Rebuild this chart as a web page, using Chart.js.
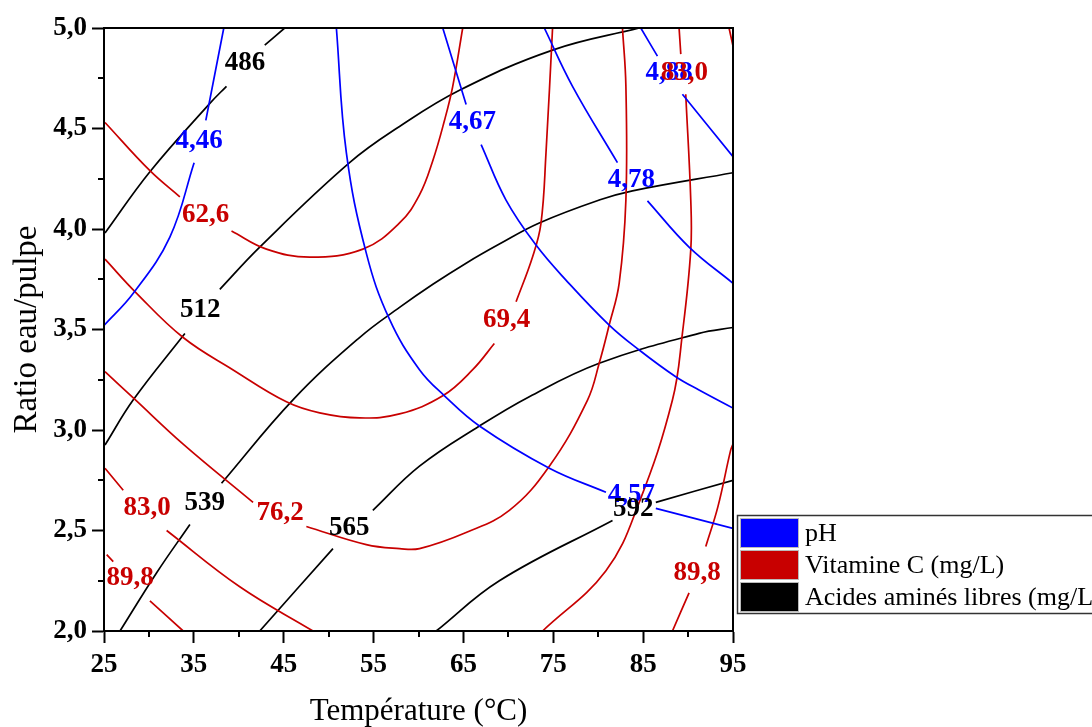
<!DOCTYPE html>
<html>
<head>
<meta charset="utf-8">
<title>Contours</title>
<script src="https://cdn.jsdelivr.net/npm/chart.js@4.4.0/dist/chart.umd.min.js"></script>
<style>
  html, body { margin: 0; padding: 0; background: #fff; }
  canvas { display: block; }
</style>
</head>
<body>
<canvas id="chart" width="1092" height="727"></canvas>
<script>
// Axis ticks
const xTicks = [25, 35, 45, 55, 65, 75, 85, 95];
const xMinorTicks = [30, 40, 50, 60, 70, 80, 90];
const yTicks = [2.0, 2.5, 3.0, 3.5, 4.0, 4.5, 5.0];
const yMinorTicks = [2.25, 2.75, 3.25, 3.75, 4.25, 4.75];

// Contour lines: [temperature, ratio], null = break (label gap)
const ph446 = [[38.33, 5.0], [36.33, 4.54], null, [35.03, 4.33], [32.33, 3.96], [28.26, 3.68], [25.0, 3.52]];
const ph457 = [[50.86, 5.0], [51.97, 4.38], [54.19, 3.88], [56.78, 3.55], [60.11, 3.30], [62.89, 3.17], [66.78, 3.02], [74.56, 2.81], [80.86, 2.69], null, [86.41, 2.61], [95.0, 2.51]];
const ph467 = [[62.70, 5.0], [65.30, 4.62], null, [66.97, 4.42], [69.74, 4.144], [73.08, 3.92], [76.41, 3.746], [81.22, 3.522], [84.56, 3.398], [88.63, 3.265], [91.22, 3.199], [95.0, 3.109]];
const ph478 = [[74.0, 5.0], [77.14, 4.71], [82.14, 4.33], null, [85.48, 4.14], [90.11, 3.91], [95.0, 3.73]];
const ph488 = [[84.74, 5.0], [86.59, 4.86], null, [89.37, 4.67], [95.0, 4.36]];

const vitc626 = [[25.11, 4.53], [30.11, 4.29], [33.44, 4.16], null, [39.19, 3.99], [43.08, 3.90], [47.89, 3.86], [53.81, 3.90], [57.89, 4.03], [60.11, 4.17], [61.59, 4.34], [62.89, 4.54], [63.81, 4.71], [64.92, 5.0]];
const vitc694 = [[25.11, 3.85], [28.63, 3.68], [33.81, 3.46], [39.33, 3.30], [45.30, 3.14], [49.0, 3.085], [53.44, 3.06], [57.89, 3.08], [62.70, 3.17], [66.03, 3.30], [68.44, 3.43], null, [70.86, 3.638], [72.70, 3.862], [73.63, 4.028], [74.19, 4.38], [74.92, 5.0]];
const vitc762 = [[25.11, 3.29], [28.26, 3.16], [33.81, 2.93], [41.59, 2.64], null, [47.52, 2.52], [54.19, 2.43], [57.89, 2.41], [60.11, 2.41], [65.30, 2.49], [70.11, 2.60], [74.56, 2.82], [78.81, 3.149], [80.11, 3.332], [81.22, 3.522], [82.33, 3.73], [83.08, 4.144], [83.08, 4.71], [82.70, 5.0]];
const vitc830 = [[25.11, 2.81], [27.14, 2.70], null, [31.97, 2.50], [40.11, 2.22], [48.26, 2.0], null, [73.81, 2.0], [80.86, 2.30], [84.56, 2.64], [88.26, 3.149], [89.37, 3.481], [90.3, 3.896], [90.3, 4.144], [89.74, 4.67], null, [89.19, 4.87], [89.0, 5.0]];
const vitc898 = [[25.3, 2.38], [26.03, 2.345], null, [30.11, 2.15], [33.81, 2.0], null, [88.26, 2.0], [90.11, 2.19], null, [91.97, 2.42], [93.33, 2.62], [94.74, 2.90], [95.0, 2.93], null, [94.56, 5.0], [95.0, 4.91]];

const aa486 = [[25.11, 3.98], [30.11, 4.285], [36.78, 4.625], [38.63, 4.71], null, [42.89, 4.915], [45.11, 5.0]];
const aa512 = [[25.11, 2.925], [28.26, 3.15], [34.0, 3.48], null, [37.89, 3.70], [42.33, 3.91], [52.33, 4.33], [57.89, 4.51], [64.56, 4.69], [74.92, 4.89], [84.56, 5.0]];
const aa539 = [[26.78, 2.0], [30.86, 2.29], [34.56, 2.53], null, [38.08, 2.735], [46.03, 3.15], [53.44, 3.46], [57.89, 3.61], [61.6, 3.725], [65.30, 3.83], [69.0, 3.925], [73.44, 4.03], [80.11, 4.144], [83.81, 4.19], [95.0, 4.28]];
const aa565 = [[42.33, 2.0], [50.48, 2.41], null, [54.92, 2.60], [60.11, 2.82], [66.78, 3.02], [72.33, 3.166], [80.11, 3.332], [91.22, 3.481], [95.0, 3.51]];
const aa592 = [[61.97, 2.0], [69.0, 2.25], [81.59, 2.55], null, [86.41, 2.64], [95.0, 2.75]];

const phLines = [ph446, ph457, ph467, ph478, ph488];
const vitcLines = [vitc626, vitc694, vitc762, vitc830, vitc898];
const aaLines = [aa486, aa512, aa539, aa565, aa592];

// Contour labels: [text, temperature, ratio]
const phLabels = [['4,46', 35.6, 4.44], ['4,57', 83.7, 2.677], ['4,67', 66.0, 4.532], ['4,78', 83.7, 4.244], ['4,88', 87.9, 4.776]];
const vitcLabels = [['62,6', 36.3, 4.07], ['69,4', 69.8, 3.547], ['76,2', 44.6, 2.587], ['83,0', 29.8, 2.612], ['83,0', 89.6, 4.776], ['89,8', 27.9, 2.264], ['89,8', 91.0, 2.289]];
const aaLabels = [['486', 40.7, 4.826], ['512', 35.7, 3.597], ['539', 36.2, 2.637], ['565', 52.3, 2.512], ['592', 83.9, 2.607]];

const legendNames = ['pH', 'Vitamine C (mg/L)', 'Acides aminés libres (mg/L)'];

const BLUE = '#0000ff';
const RED = '#c80000';
const BLACK = '#000000';
const SERIF = '"Liberation Serif", "Times New Roman", serif';

function toPoints(line) {
  const out = [];
  let lastX = 25;
  line.forEach(p => {
    if (p) {
      out.push({ x: p[0], y: p[1] });
      lastX = p[0];
    } else {
      out.push({ x: lastX, y: null });
    }
  });
  return out;
}

function makeSets(lines, color) {
  return lines.map(l => ({
    data: toPoints(l),
    borderColor: color,
    borderWidth: 1.7,
    pointRadius: 0,
    tension: 0.4,
    spanGaps: false,
    fill: false
  }));
}

const datasets = [
  ...makeSets(phLines, BLUE),
  ...makeSets(vitcLines, RED),
  ...makeSets(aaLines, BLACK)
];

const decoPlugin = {
  id: 'deco',
  afterDatasetsDraw(chart) {
    const { ctx, chartArea: a, scales: { x, y } } = chart;
    ctx.save();

    // frame
    ctx.strokeStyle = '#000';
    ctx.lineWidth = 2;
    ctx.strokeRect(a.left, a.top, a.right - a.left, a.bottom - a.top);

    // minor ticks
    ctx.lineWidth = 2;
    ctx.beginPath();
    xMinorTicks.forEach(v => {
      const px = Math.round(x.getPixelForValue(v));
      ctx.moveTo(px, a.bottom);
      ctx.lineTo(px, a.bottom + 6);
    });
    yMinorTicks.forEach(v => {
      const py = Math.round(y.getPixelForValue(v));
      ctx.moveTo(a.left, py);
      ctx.lineTo(a.left - 6, py);
    });
    ctx.stroke();

    // contour labels
    ctx.font = 'bold 27px ' + SERIF;
    ctx.textAlign = 'center';
    ctx.textBaseline = 'middle';
    const drawLabels = (list, color) => {
      ctx.fillStyle = color;
      list.forEach(([t, vx, vy]) => {
        ctx.fillText(t, x.getPixelForValue(vx), y.getPixelForValue(vy));
      });
    };
    drawLabels(phLabels, BLUE);
    drawLabels(vitcLabels, RED);
    drawLabels(aaLabels, BLACK);

    // legend
    const colors = [BLUE, RED, BLACK];
    ctx.strokeStyle = '#333';
    ctx.lineWidth = 1.5;
    ctx.strokeRect(737.5, 515.5, 400, 98);
    ctx.font = '26px ' + SERIF;
    ctx.textAlign = 'left';
    legendNames.forEach((name, i) => {
      const top = 518 + i * 32;
      ctx.fillStyle = colors[i];
      ctx.fillRect(740, top, 59, 30);
      ctx.strokeStyle = '#bbb';
      ctx.lineWidth = 1;
      ctx.strokeRect(740.5, top + 0.5, 58, 29);
      ctx.fillStyle = '#000';
      ctx.fillText(name, 805, top + 16);
    });

    ctx.restore();
  }
};

new Chart(document.getElementById('chart'), {
  type: 'line',
  data: { datasets },
  options: {
    responsive: false,
    animation: false,
    layout: { padding: { top: 28, right: 359, left: 0, bottom: 0 } },
    plugins: {
      legend: { display: false },
      tooltip: { enabled: false }
    },
    scales: {
      x: {
        type: 'linear',
        min: 25,
        max: 95,
        afterBuildTicks: s => { s.ticks = xTicks.map(v => ({ value: v })); },
        afterFit: s => { s.height = 96; },
        grid: { drawOnChartArea: false, drawTicks: true, tickLength: 12, tickWidth: 2, tickColor: '#000' },
        border: { display: true, color: '#000', width: 2 },
        ticks: {
          color: '#000',
          padding: 6,
          maxRotation: 0,
          font: { family: SERIF, size: 27, weight: 'bold' },
          callback: v => String(v)
        },
        title: {
          display: true,
          text: 'Température (°C)',
          color: '#000',
          padding: { top: 0, bottom: 0 },
          font: { family: SERIF, size: 31, lineHeight: 1 }
        }
      },
      y: {
        type: 'linear',
        min: 2,
        max: 5,
        afterBuildTicks: s => { s.ticks = yTicks.map(v => ({ value: v })); },
        afterFit: s => { s.width = 104; },
        grid: { drawOnChartArea: false, drawTicks: true, tickLength: 12, tickWidth: 2, tickColor: '#000' },
        border: { display: true, color: '#000', width: 2 },
        ticks: {
          color: '#000',
          padding: 5,
          font: { family: SERIF, size: 27, weight: 'bold' },
          callback: v => v.toFixed(1).replace('.', ',')
        },
        title: {
          display: true,
          text: 'Ratio eau/pulpe',
          color: '#000',
          padding: { top: 11, bottom: 0 },
          font: { family: SERIF, size: 33, lineHeight: 1 }
        }
      }
    }
  },
  plugins: [decoPlugin]
});
</script>
</body>
</html>
